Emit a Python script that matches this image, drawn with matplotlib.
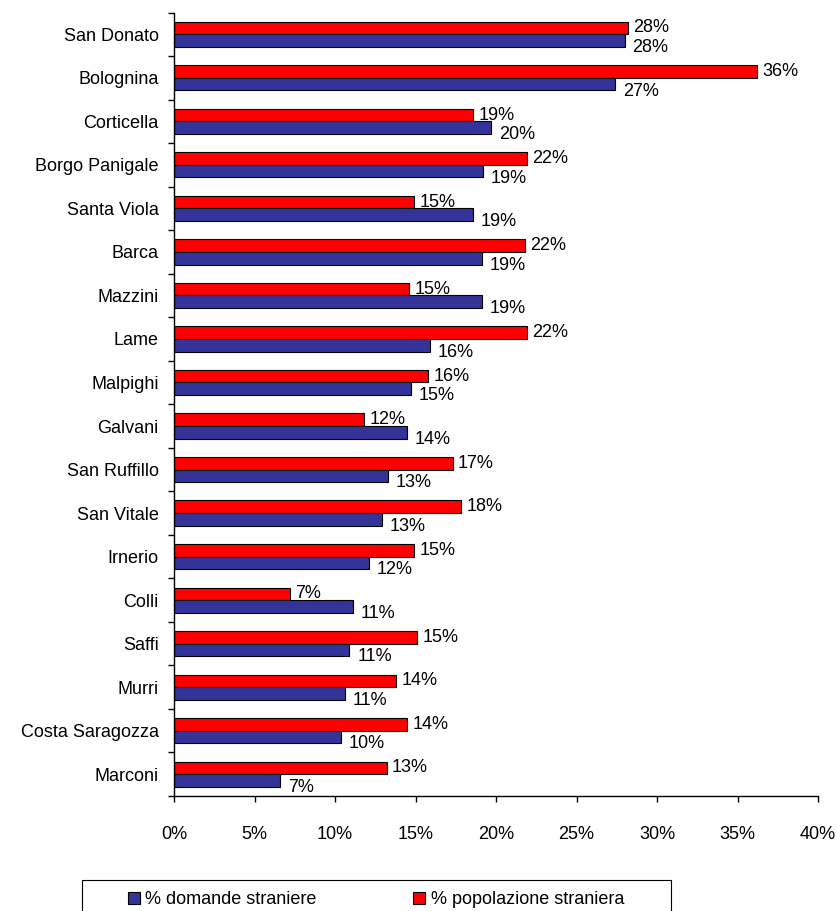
import matplotlib
matplotlib.use("Agg")
import matplotlib.pyplot as plt
import numpy as np
from matplotlib.patches import Patch, Rectangle
from matplotlib.ticker import FixedLocator, PercentFormatter

plt.rcParams['font.family'] = ['Liberation Sans', 'DejaVu Sans']

# === Data (top to bottom as in the chart) ===
quartieri = [
    "San Donato", "Bolognina", "Corticella", "Borgo Panigale", "Santa Viola",
    "Barca", "Mazzini", "Lame", "Malpighi", "Galvani", "San Ruffillo",
    "San Vitale", "Irnerio", "Colli", "Saffi", "Murri", "Costa Saragozza",
    "Marconi",
]
pct_popolazione = [28.2, 36.2, 18.6, 21.9, 14.9, 21.8, 14.6, 21.9, 15.8,
                   11.8, 17.3, 17.8, 14.9, 7.2, 15.1, 13.8, 14.5, 13.2]
pct_domande = [28.0, 27.4, 19.7, 19.2, 18.6, 19.1, 19.1, 15.9, 14.7,
               14.5, 13.3, 12.9, 12.1, 11.1, 10.9, 10.6, 10.4, 6.6]
x_ticks = [0, 5, 10, 15, 20, 25, 30, 35, 40]
legend_labels = ["% domande straniere", "% popolazione straniera"]

RED = "#FF0000"
BLUE = "#333399"
FS = 13

fig = plt.figure(figsize=(8.36, 9.11), dpi=100)
ax = fig.add_axes([174 / 836, 1 - 796 / 911, (818 - 174) / 836, (796 - 12.5) / 911])

n = len(quartieri)
y = np.arange(n)
h = 0.29

ax.barh(y - h / 2, pct_popolazione, height=h, color=RED, edgecolor="black", linewidth=0.8)
ax.barh(y + h / 2, pct_domande, height=h, color=BLUE, edgecolor="black", linewidth=0.8)

for i in range(n):
    ax.annotate(f"{pct_popolazione[i]:.0f}%", (pct_popolazione[i], y[i] - h / 2),
                xytext=(4, 0), textcoords="offset points",
                ha="left", va="center", fontsize=FS)
    ax.annotate(f"{pct_domande[i]:.0f}%", (pct_domande[i], y[i] + h / 2),
                xytext=(5.5, -5), textcoords="offset points",
                ha="left", va="center", fontsize=FS)

ax.set_ylim(n - 0.5, -0.5)
ax.set_xlim(0, 40)
ax.set_xticks(x_ticks)
ax.xaxis.set_major_formatter(PercentFormatter(decimals=0))
ax.set_yticks(y)
ax.set_yticklabels(quartieri)
ax.yaxis.set_minor_locator(FixedLocator(np.arange(n + 1) - 0.5))
ax.tick_params(axis="y", which="major", length=0, pad=11, labelsize=FS)
ax.tick_params(axis="y", which="minor", length=4.5, direction="out", width=1)
ax.tick_params(axis="x", length=4.5, width=1, direction="out", pad=17, labelsize=FS)

for side in ["top", "right"]:
    ax.spines[side].set_visible(False)
for side in ["left", "bottom"]:
    ax.spines[side].set_linewidth(1)

# legend frame (cut off by the bottom of the figure, as in the original)
fig.patches.append(Rectangle((82 / 836, -0.05), (671 - 82) / 836, 0.05 + 1 - 880 / 911,
                             transform=fig.transFigure, facecolor="white",
                             edgecolor="black", linewidth=0.8))
handles = [Patch(facecolor=BLUE, edgecolor="black", linewidth=0.8),
           Patch(facecolor=RED, edgecolor="black", linewidth=0.8)]
fig.legend(handles, legend_labels, ncol=2, loc="center left",
           bbox_to_anchor=(128 / 836, 1 - 900 / 911),
           frameon=False, borderpad=0, borderaxespad=0, fontsize=FS,
           handlelength=0.66, handleheight=0.66, handletextpad=0.3,
           columnspacing=5.35)

fig.savefig("out.png", dpi=100)
